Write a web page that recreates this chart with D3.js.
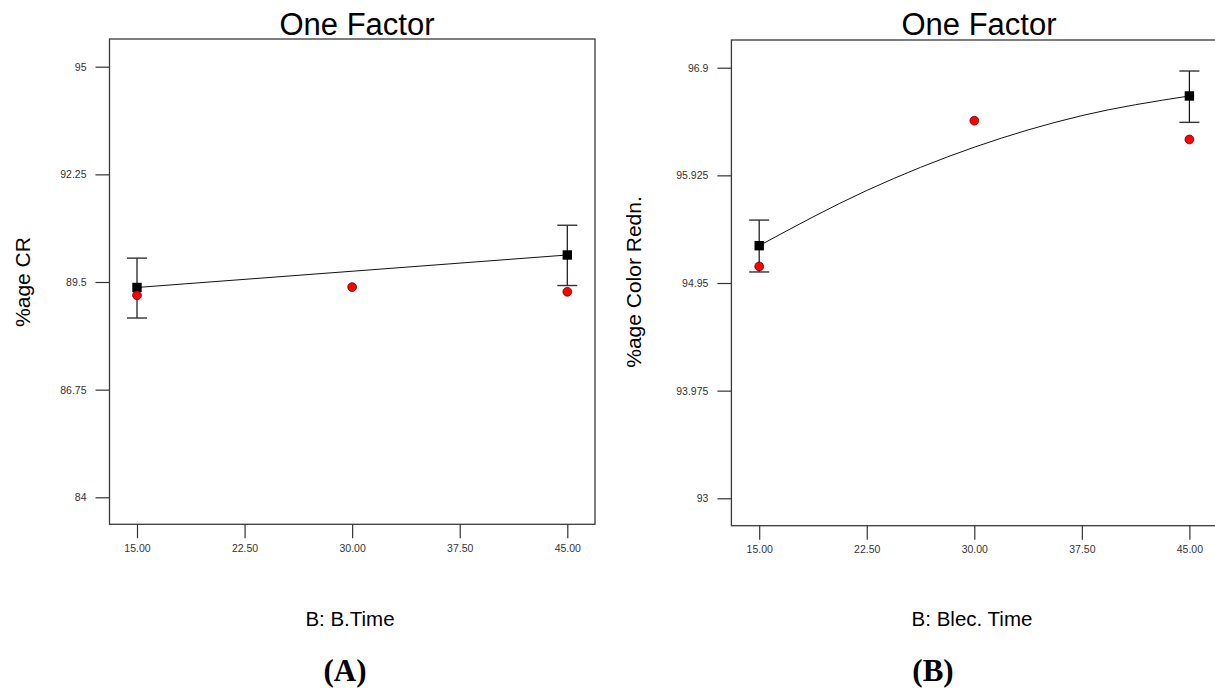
<!DOCTYPE html>
<html>
<head>
<meta charset="utf-8">
<script src="https://cdn.jsdelivr.net/npm/d3@7"></script>
<style>
  html, body { margin: 0; padding: 0; background: #fff; }
  svg { display: block; }
</style>
</head>
<body>
<svg id="chart" width="1215" height="688"></svg>
<script>
// ---------- Data ----------
const xTicks = [15, 22.5, 30, 37.5, 45];
const xTickLabels = ["15.00", "22.50", "30.00", "37.50", "45.00"];

// Panel A
const yTicksA = [84, 86.75, 89.5, 92.25, 95];
const yTickLabelsA = ["84", "86.75", "89.5", "92.25", "95"];
const fitXA = [15, 45];
const fitYA = [89.36, 90.19];
const errXA = [15, 45];
const errLowA = [88.58, 89.41];
const errHighA = [90.11, 90.95];
const obsXA = [15, 30, 45];
const obsYA = [89.16, 89.37, 89.25];

// Panel B
const yTicksB = [93, 93.975, 94.95, 95.925, 96.9];
const yTickLabelsB = ["93", "93.975", "94.95", "95.925", "96.9"];
const fitXB = [15, 22.5, 30, 37.5, 45];
const fitYB = [95.288, 95.788, 96.18, 96.466, 96.644];
const errXB = [15, 45];
const errLowB = [95.05, 96.405];
const errHighB = [95.52, 96.87];
const obsXB = [15, 30, 45];
const obsYB = [95.10, 96.42, 96.25];

const svg = d3.select("#chart");

function panel(cfg) {
  const g = svg.append("g");
  const x = d3.scaleLinear().domain([15, 45]).range([cfg.x0, cfg.x1]);
  const y = d3.scaleLinear().domain([cfg.yTicks[0], cfg.yTicks[cfg.yTicks.length - 1]]).range([cfg.y0, cfg.y1]);

  // frame
  g.append("rect")
    .attr("x", cfg.frame[0]).attr("y", cfg.frame[1])
    .attr("width", cfg.frame[2] - cfg.frame[0]).attr("height", cfg.frame[3] - cfg.frame[1])
    .attr("fill", "none").attr("stroke", "#3a3a3a").attr("stroke-width", 1.3);

  // x axis ticks
  const xAxis = d3.axisBottom(x).tickValues(xTicks).tickSize(14).tickPadding(6)
    .tickFormat((d, i) => xTickLabels[i]);
  const gx = g.append("g").attr("transform", `translate(0,${cfg.frame[3]})`).call(xAxis);
  gx.select(".domain").remove();
  gx.selectAll("line").attr("stroke", "#333").attr("stroke-width", 1.2);
  gx.selectAll("text").attr("font-family", "Liberation Sans, Arial, sans-serif")
    .attr("font-size", "10.5px").attr("fill", "#333");

  // y axis ticks
  const yAxis = d3.axisLeft(y).tickValues(cfg.yTicks).tickSize(14).tickPadding(9)
    .tickFormat((d, i) => cfg.yTickLabels[i]);
  const gy = g.append("g").attr("transform", `translate(${cfg.frame[0]},0)`).call(yAxis);
  gy.select(".domain").remove();
  gy.selectAll("line").attr("stroke", "#333").attr("stroke-width", 1.2);
  gy.selectAll("text").attr("font-family", "Liberation Sans, Arial, sans-serif")
    .attr("font-size", "10.5px").attr("fill", "#333");

  // fitted line
  const line = d3.line().x(d => x(d[0])).y(d => y(d[1])).curve(d3.curveMonotoneX);
  g.append("path")
    .datum(cfg.fitX.map((v, i) => [v, cfg.fitY[i]]))
    .attr("d", line).attr("fill", "none").attr("stroke", "#111").attr("stroke-width", 1);

  // error bars
  cfg.errX.forEach((xv, i) => {
    const cx = x(xv);
    g.append("line").attr("x1", cx).attr("x2", cx)
      .attr("y1", y(cfg.errLow[i])).attr("y2", y(cfg.errHigh[i]))
      .attr("stroke", "#111").attr("stroke-width", 1.2);
    [cfg.errLow[i], cfg.errHigh[i]].forEach(v => {
      g.append("line").attr("x1", cx - 10).attr("x2", cx + 10)
        .attr("y1", y(v)).attr("y2", y(v))
        .attr("stroke", "#333").attr("stroke-width", 1.4);
    });
  });

  // squares (predicted at design points)
  cfg.errX.forEach((xv, i) => {
    const pi = cfg.fitX.indexOf(xv);
    g.append("rect")
      .attr("x", x(xv) - 4.7).attr("y", y(cfg.fitY[pi]) - 4.7)
      .attr("width", 9.4).attr("height", 9.4).attr("fill", "#000");
  });

  // observed points
  g.selectAll("circle.obs").data(cfg.obsX.map((v, i) => [v, cfg.obsY[i]]))
    .enter().append("circle")
    .attr("cx", d => x(d[0])).attr("cy", d => y(d[1])).attr("r", 4.4)
    .attr("fill", "#ff0000").attr("stroke", "#6a0000").attr("stroke-width", 0.8);

  // title
  g.append("text").attr("x", cfg.titleX).attr("y", 35).attr("text-anchor", "middle")
    .attr("font-family", "Liberation Sans, Arial, sans-serif").attr("font-size", "31px")
    .attr("fill", "#000").text("One Factor");

  // y label
  g.append("text").attr("transform", `translate(${cfg.yLabelX},282) rotate(-90)`)
    .attr("text-anchor", "middle")
    .attr("font-family", "Liberation Sans, Arial, sans-serif").attr("font-size", "21px")
    .attr("fill", "#000").text(cfg.yLabel);

  // x label
  g.append("text").attr("x", cfg.xLabelX).attr("y", 626).attr("text-anchor", "middle")
    .attr("font-family", "Liberation Sans, Arial, sans-serif").attr("font-size", "20.5px")
    .attr("fill", "#000").text(cfg.xLabel);

  // panel letter
  g.append("text").attr("x", cfg.letterX).attr("y", 681).attr("text-anchor", "middle")
    .attr("font-family", "Liberation Serif, Times New Roman, serif").attr("font-weight", "bold")
    .attr("font-size", "31px").attr("fill", "#000").text(cfg.letter);
}

panel({
  x0: 137, x1: 567.3, y0: 497.3, y1: 66.7,
  frame: [109.5, 39, 595, 524.3],
  yTicks: yTicksA, yTickLabels: yTickLabelsA,
  fitX: fitXA, fitY: fitYA, errX: errXA, errLow: errLowA, errHigh: errHighA,
  obsX: obsXA, obsY: obsYA,
  titleX: 357, yLabelX: 30, yLabel: "%age CR",
  xLabelX: 350, xLabel: "B: B.Time", letterX: 345, letter: "(A)"
});

panel({
  x0: 759.2, x1: 1189.4, y0: 498.3, y1: 67.7,
  frame: [731.4, 40, 1217, 525.7],
  yTicks: yTicksB, yTickLabels: yTickLabelsB,
  fitX: fitXB, fitY: fitYB, errX: errXB, errLow: errLowB, errHigh: errHighB,
  obsX: obsXB, obsY: obsYB,
  titleX: 979, yLabelX: 641, yLabel: "%age Color Redn.",
  xLabelX: 972, xLabel: "B: Blec. Time", letterX: 933, letter: "(B)"
});
</script>
</body>
</html>
